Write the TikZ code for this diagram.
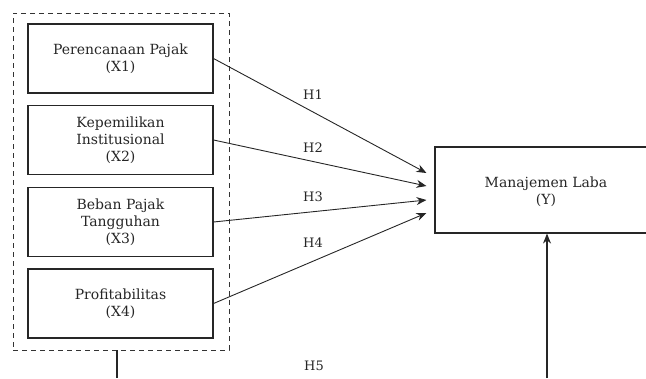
\documentclass[tikz,border=0pt]{standalone}
\usepackage{fontspec}
\setmainfont{DejaVu Serif}
\usetikzlibrary{calc,arrows.meta}
\begin{document}
\begin{tikzpicture}[x=1pt,y=-1pt,
  varbox/.style={draw=black!85,line width=1.1pt,minimum width=185pt,minimum height=69pt,inner sep=0pt,align=center,font=\fontsize{14}{17}\selectfont,text=black!85},
  grpbox/.style={draw=black!80,line width=0.9pt,dash pattern=on 5pt off 4pt,minimum width=216pt,minimum height=337pt,inner sep=0pt},
  conn/.style={draw=black!85,line width=0.9pt,-{Stealth[length=10pt,width=8pt]}},
  plain/.style={draw=black!85,line width=1.1pt},
  hlab/.style={font=\fontsize{13}{15}\selectfont,text=black!85}]
\useasboundingbox (0,0) rectangle (646,378);
\node[grpbox] (grp) at (121,181.5) {};
\node[varbox] (x1) at (120.5,58.5) {Perencanaan Pajak\\(X1)};
\node[varbox] (x2) at (120.5,140) {Kepemilikan\\Institusional\\(X2)};
\node[varbox] (x3) at (120.5,222) {Beban Pajak\\Tangguhan\\(X3)};
\node[varbox] (x4) at (120.5,303.5) {Profitabilitas\\(X4)};
\node[varbox,minimum width=226pt,minimum height=86pt] (y) at (548,190) {};
\node[font=\fontsize{14}{17}\selectfont,text=black!85,align=center] (ytext) at (546,192) {Manajemen Laba\\(Y)};
\draw[conn] (x1.east) -- ($(y.west)+(-8,-17)$);
\draw[conn] (x2.east) -- ($(y.west)+(-8,-4)$);
\draw[conn] (x3.east) -- ($(y.west)+(-8,10)$);
\draw[conn] (x4.east) -- ($(y.west)+(-8,23)$);
\node[hlab] (h1) at (313,95) {H1};
\node[hlab] (h2) at (313,148) {H2};
\node[hlab] (h3) at (313,197) {H3};
\node[hlab] (h4) at (313,243) {H4};
\node[hlab] (h5) at (314,366) {H5};
\coordinate (v1) at (117,378);
\draw[plain] (grp.south -| v1) -- (v1);
\coordinate (v2) at (547,378);
\draw[conn,line width=1.1pt] (v2) -- (y.south -| v2);
\end{tikzpicture}
\end{document}
